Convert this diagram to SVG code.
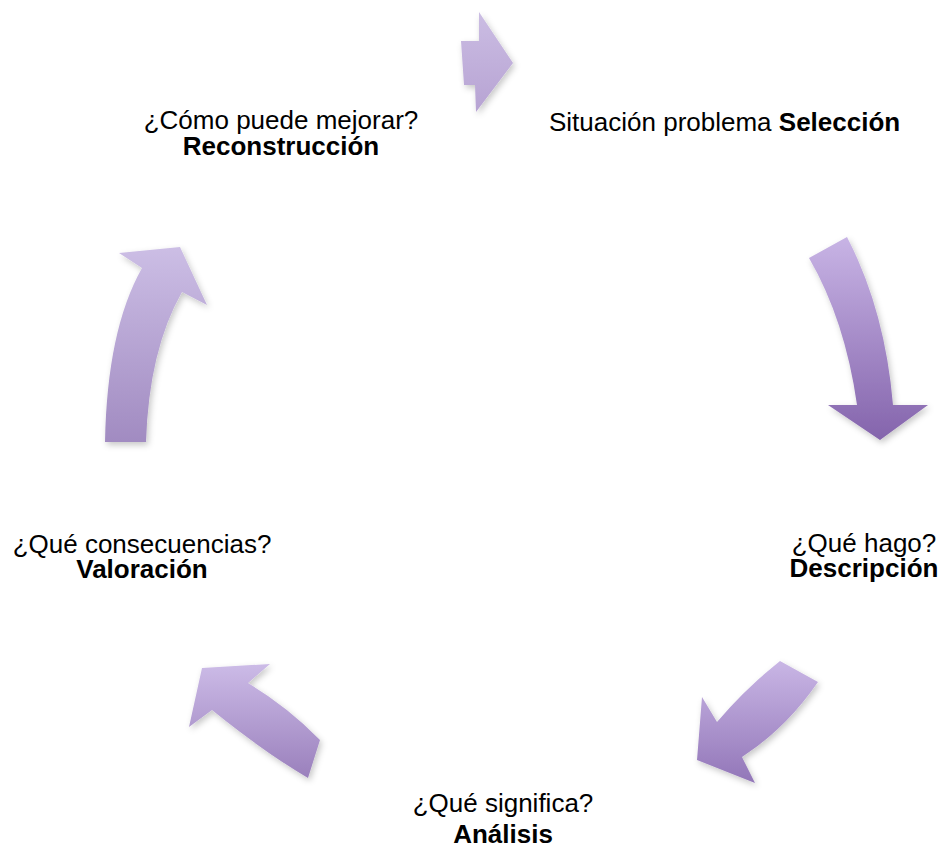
<svg xmlns="http://www.w3.org/2000/svg" width="943" height="848" viewBox="0 0 943 848">
<style>
  .t{font-family:"Liberation Sans",Arial,sans-serif;font-size:26px;fill:#000}
  .b{font-weight:bold}
  .m{text-anchor:middle}
  .arrow{filter:url(#sh)}
</style>
<defs>
  <filter id="sh" x="-30%" y="-30%" width="160%" height="160%">
    <feDropShadow dx="2" dy="3" stdDeviation="3" flood-color="#000" flood-opacity="0.22"/>
  </filter>
  <linearGradient id="gTop" x1="0" y1="0" x2="0" y2="1">
    <stop offset="0" stop-color="#cbbde3"/><stop offset="1" stop-color="#b7a3d3"/>
  </linearGradient>
  <linearGradient id="gRight" x1="0" y1="0" x2="0" y2="1">
    <stop offset="0" stop-color="#c8b4e5"/><stop offset="1" stop-color="#8464ac"/>
  </linearGradient>
  <linearGradient id="gBR" x1="0" y1="0" x2="0" y2="1">
    <stop offset="0" stop-color="#c9b6e5"/><stop offset="1" stop-color="#9276b8"/>
  </linearGradient>
  <linearGradient id="gBL" x1="0" y1="0" x2="0" y2="1">
    <stop offset="0" stop-color="#ccbbe7"/><stop offset="1" stop-color="#9a80bc"/>
  </linearGradient>
  <linearGradient id="gL" x1="0" y1="0" x2="0" y2="1">
    <stop offset="0" stop-color="#ccbee5"/><stop offset="1" stop-color="#a18bc1"/>
  </linearGradient>
</defs>

<g id="connectors">
  <path id="arrow-top" class="arrow" fill="url(#gTop)" d="M461,41 L479,41 L479,12 L513,63 L476,112 L475,85 L464,85 Z"/>
  <path id="arrow-right" class="arrow" fill="url(#gRight)" d="M809,258 Q845,320 857,405 L828,405 L880,440 L928,405 L893,405 Q885,310 847,237 Z"/>
  <path id="arrow-bottom-right" class="arrow" fill="url(#gBR)" d="M780,661 Q745.5,688.5 717,722 L702,697 L697,760 L755,783 L742,757 Q786,728.5 818,682 Z"/>
  <path id="arrow-bottom-left" class="arrow" fill="url(#gBL)" d="M202,668 L270,664 L248,683 Q289,708 320,740 L308,778 Q264,752 212,710 L189,727 Z"/>
  <path id="arrow-left" class="arrow" fill="url(#gL)" d="M180,247 L207,305 L182,292 Q149,350 146,442 L105,442 Q107,330 142,268 L119,253 Z"/>
</g>

<g id="node-reconstruccion">
  <text class="t m" x="281" y="129">¿Cómo puede mejorar?</text>
  <text class="t b m" x="281" y="155">Reconstrucción</text>
</g>
<g id="node-seleccion">
  <text class="t" x="549" y="131">Situación problema <tspan class="b">Selección</tspan></text>
</g>
<g id="node-descripcion">
  <text class="t m" x="864" y="552">¿Qué hago?</text>
  <text class="t b m" x="864" y="577">Descripción</text>
</g>
<g id="node-analisis">
  <text class="t m" x="503" y="812">¿Qué significa?</text>
  <text class="t b m" x="503" y="843">Análisis</text>
</g>
<g id="node-valoracion">
  <text class="t m" x="142" y="553">¿Qué consecuencias?</text>
  <text class="t b m" x="142" y="578">Valoración</text>
</g>
</svg>
